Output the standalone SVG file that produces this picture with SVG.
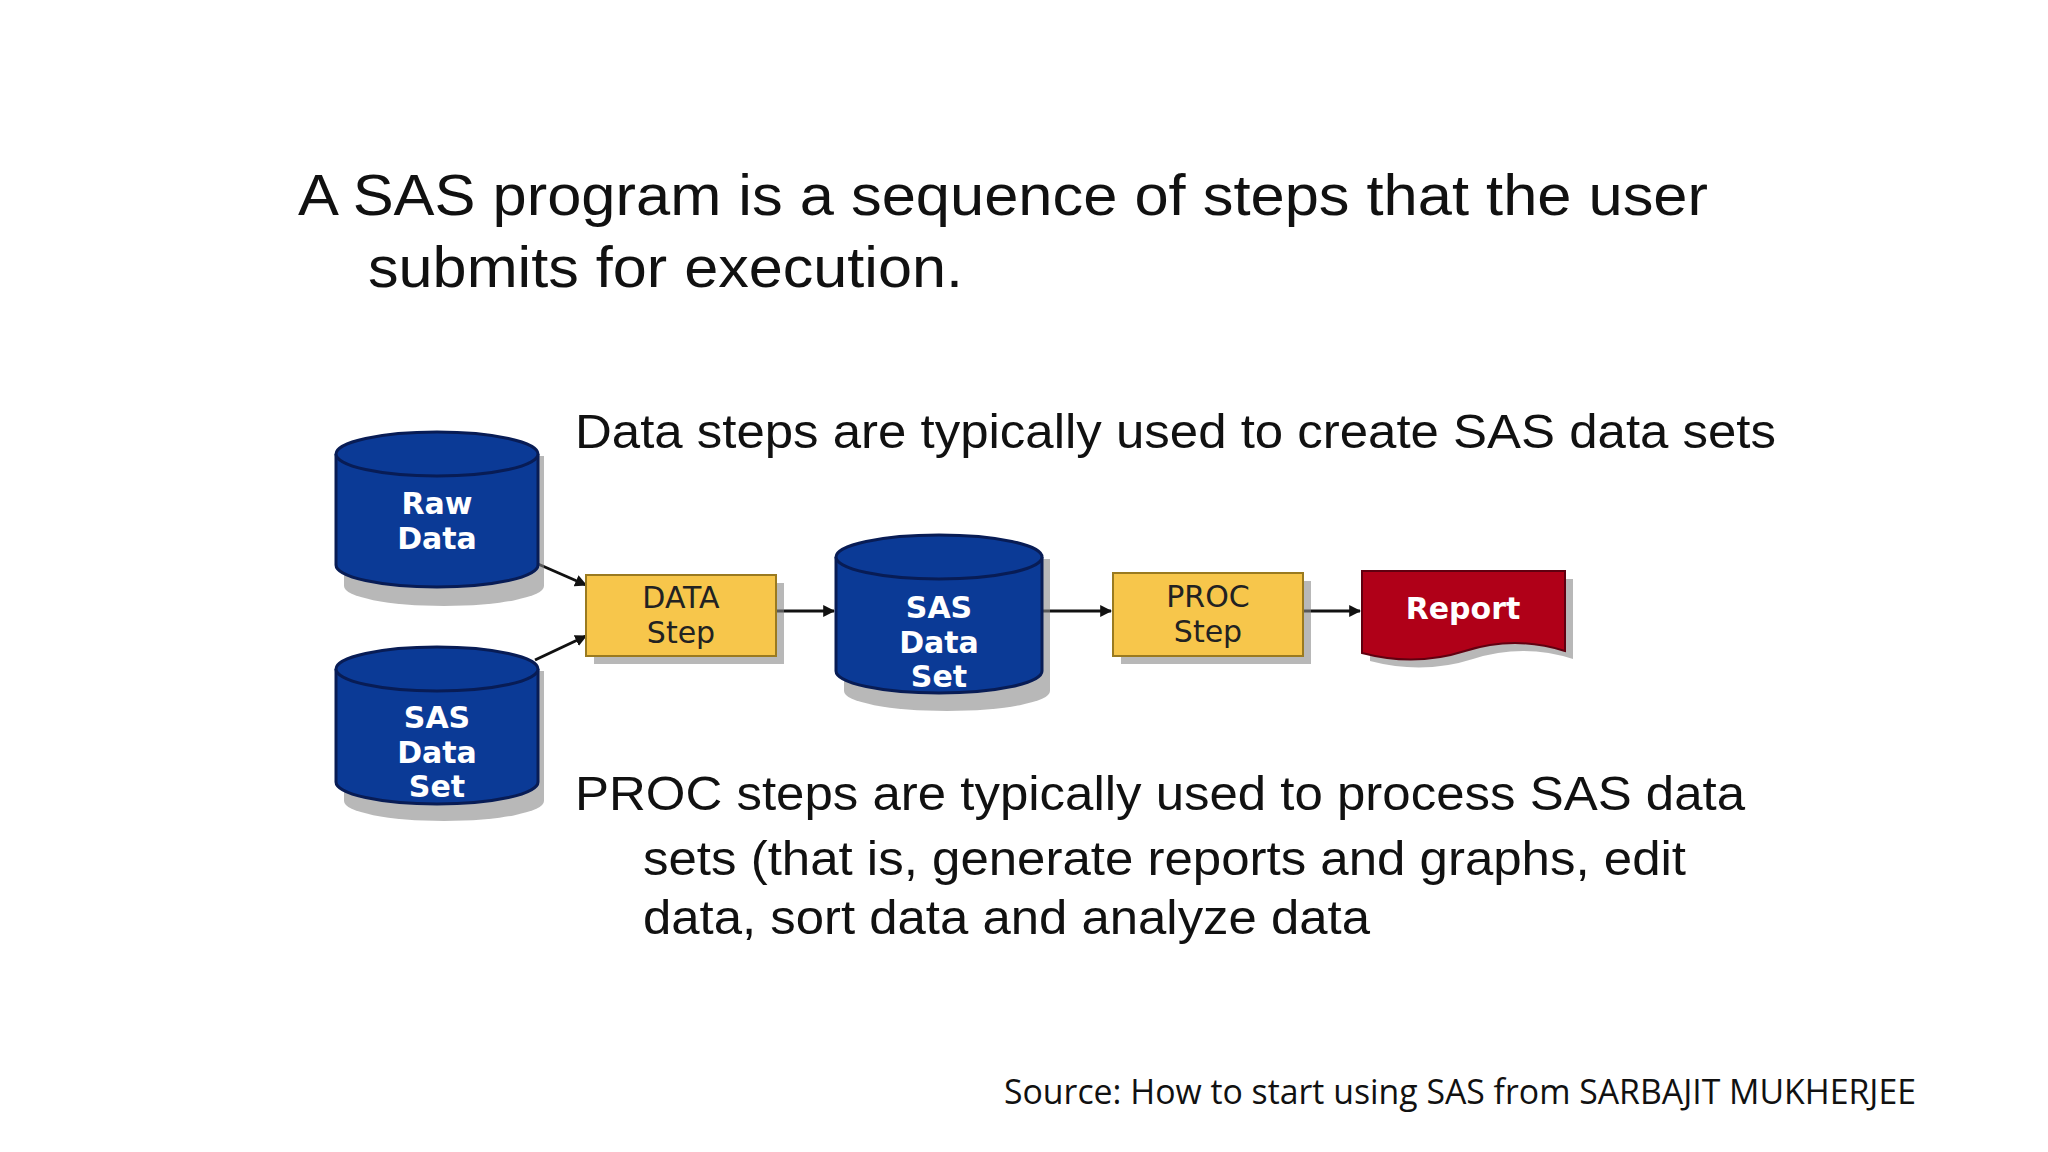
<svg xmlns="http://www.w3.org/2000/svg" width="2048" height="1152" viewBox="0 0 2048 1152">
<defs>
<style>
.t{font-family:"Liberation Sans",Arial,sans-serif;fill:#111}
.n{font-family:"DejaVu Sans",Verdana,sans-serif;font-size:30px;font-weight:bold;fill:#fff;text-anchor:middle}
.ny{font-family:"DejaVu Sans",Verdana,sans-serif;font-size:30px;fill:#222;text-anchor:middle}
.cyl{fill:#0b3a96;stroke:#081c55;stroke-width:3}
.box{fill:#f7c64b;stroke:#9a7a20;stroke-width:2}
.sh{fill:#888;opacity:.6}
.c{stroke:#111;stroke-width:3;fill:none;marker-end:url(#a)}
</style>
<marker id="a" viewBox="0 0 10 10" refX="9" refY="5" markerWidth="4" markerHeight="4" orient="auto"><path d="M0,0L10,5L0,10z" fill="#111"/></marker>
</defs>
<rect width="2048" height="1152" fill="#fff"/>
<text class="t" x="298" y="215" font-size="57" textLength="1410" lengthAdjust="spacingAndGlyphs">A SAS program is a sequence of steps that the user</text>
<text class="t" x="368" y="287" font-size="57" textLength="595" lengthAdjust="spacingAndGlyphs">submits for execution.</text>
<text class="t" x="575" y="448" font-size="48" textLength="1201" lengthAdjust="spacingAndGlyphs">Data steps are typically used to create SAS data sets</text>
<text class="t" x="575" y="810" font-size="48" textLength="1170" lengthAdjust="spacingAndGlyphs">PROC steps are typically used to process SAS data</text>
<text class="t" x="643" y="875" font-size="48" textLength="1043" lengthAdjust="spacingAndGlyphs">sets (that is, generate reports and graphs, edit</text>
<text class="t" x="643" y="934" font-size="48" textLength="727" lengthAdjust="spacingAndGlyphs">data, sort data and analyze data</text>
<text x="1004" y="1104" font-size="35" font-family="Open Sans, sans-serif" fill="#111" textLength="912" lengthAdjust="spacingAndGlyphs">Source: How to start using SAS from SARBAJIT MUKHERJEE</text>
<g id="connectors">
<path class="c" d="M538,564L586,585"/>
<path class="c" d="M535,660L586,636"/>
<path class="c" d="M776,611L834,611"/>
<path class="c" d="M1042,611L1111,611"/>
<path class="c" d="M1302,611L1360,611"/>
</g>
<g id="raw">
<path class="sh" d="M344,456v130a100,20 0 0 0 200,0v-130z"/>
<path class="cyl" d="M336,454v111a101,22 0 0 0 202,0v-111"/>
<ellipse class="cyl" cx="437" cy="454" rx="101" ry="22"/>
<text class="n" x="437" y="514">Raw</text><text class="n" x="437" y="549">Data</text>
</g>
<g id="sasleft">
<path class="sh" d="M344,671v130a100,20 0 0 0 200,0v-130z"/>
<path class="cyl" d="M336,669v113a101,22 0 0 0 202,0v-113"/>
<ellipse class="cyl" cx="437" cy="669" rx="101" ry="22"/>
<text class="n" x="437" y="728">SAS</text><text class="n" x="437" y="763">Data</text><text class="n" x="437" y="797">Set</text>
</g>
<g id="datastep">
<rect class="sh" x="594" y="583" width="190" height="81"/>
<rect class="box" x="586" y="575" width="190" height="81"/>
<text class="ny" x="681" y="608">DATA</text><text class="ny" x="681" y="643">Step</text>
</g>
<g id="sasmid">
<path class="sh" d="M844,559v132a103,20 0 0 0 206,0v-132z"/>
<path class="cyl" d="M836,557v114a103,22 0 0 0 206,0v-114"/>
<ellipse class="cyl" cx="939" cy="557" rx="103" ry="22"/>
<text class="n" x="939" y="618">SAS</text><text class="n" x="939" y="653">Data</text><text class="n" x="939" y="687">Set</text>
</g>
<g id="procstep">
<rect class="sh" x="1121" y="581" width="190" height="83"/>
<rect class="box" x="1113" y="573" width="190" height="83"/>
<text class="ny" x="1208" y="607">PROC</text><text class="ny" x="1208" y="642">Step</text>
</g>
<g id="report">
<path class="sh" d="M1370,579h203v80q-50,-16 -100,0t-103,2z"/>
<path d="M1362,571h203v80q-50,-16 -100,0t-103,2z" fill="#b00018" stroke="#600010" stroke-width="2"/>
<text class="n" x="1463" y="619">Report</text>
</g>
</svg>
